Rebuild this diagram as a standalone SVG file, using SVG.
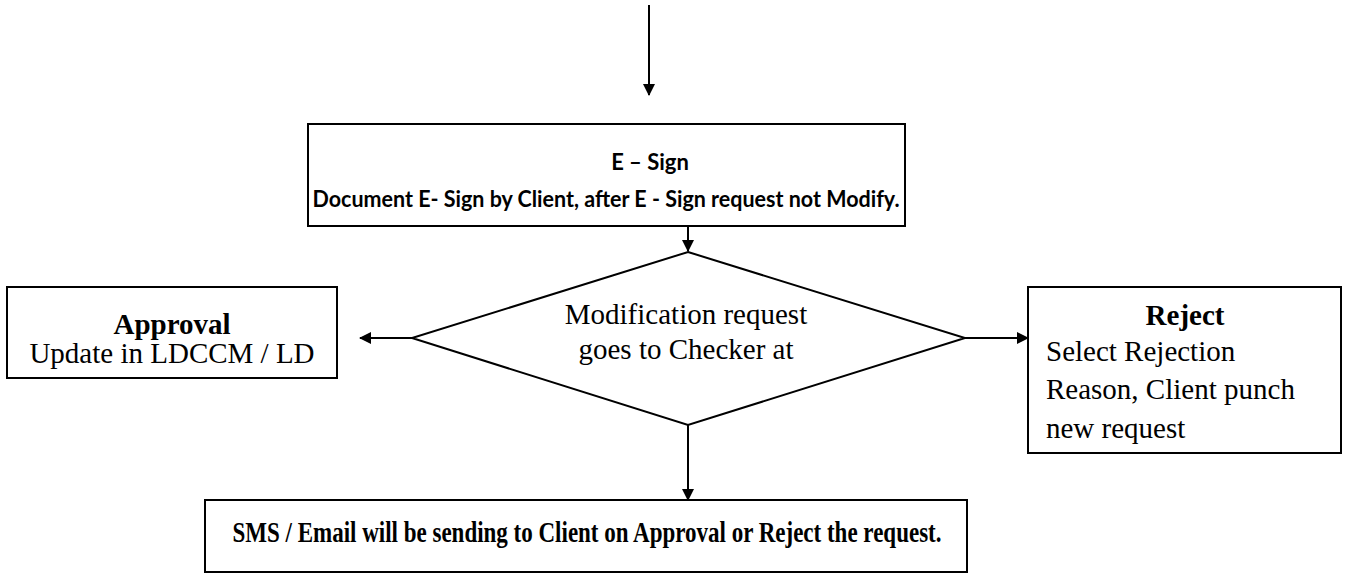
<svg xmlns="http://www.w3.org/2000/svg" width="1367" height="585" viewBox="0 0 1367 585">
<style>
.box{fill:#fff;stroke:#000;stroke-width:2}
.ln{stroke:#000;stroke-width:2;fill:none}
.cal{font-family:Lato,"Open Sans","Liberation Sans",sans-serif;font-weight:bold;font-size:22px;fill:#000}
.tnr{font-family:"Liberation Serif",serif;font-size:29px;fill:#000}
.b{font-weight:bold}
</style>
<defs>
<marker id="ah" markerWidth="12" markerHeight="12" refX="11" refY="6" orient="auto" markerUnits="userSpaceOnUse" viewBox="0 0 12 12">
<path d="M0,0 L12,6 L0,12 z" fill="#000"/>
</marker>
</defs>
<g id="connectors">
<line class="ln" x1="649" y1="5" x2="649" y2="95" marker-end="url(#ah)"/>
<line class="ln" x1="688" y1="226" x2="688" y2="251" marker-end="url(#ah)"/>
<line class="ln" x1="412" y1="338" x2="360" y2="338" marker-end="url(#ah)"/>
<line class="ln" x1="965" y1="338" x2="1028" y2="338" marker-end="url(#ah)"/>
<line class="ln" x1="688" y1="425" x2="688" y2="500" marker-end="url(#ah)"/>
</g>
<g id="esign">
<rect class="box" x="308" y="124" width="597" height="102"/>
<text class="cal" x="650" y="170" text-anchor="middle">E – Sign</text>
<text class="cal" x="606" y="207" text-anchor="middle" textLength="587" lengthAdjust="spacingAndGlyphs">Document E- Sign by Client, after E - Sign request not Modify.</text>
</g>
<g id="decision">
<polygon class="box" points="688,252 965,338 688,425 412,338"/>
<text class="tnr" x="686" y="324" text-anchor="middle">Modification request</text>
<text class="tnr" x="686" y="359" text-anchor="middle">goes to Checker at</text>
</g>
<g id="approval">
<rect class="box" x="7" y="287" width="330" height="91"/>
<text class="tnr b" x="172" y="334" text-anchor="middle">Approval</text>
<text class="tnr" x="172" y="363" text-anchor="middle">Update in LDCCM / LD</text>
</g>
<g id="reject">
<rect class="box" x="1028" y="287" width="313" height="166"/>
<text class="tnr b" x="1185" y="325" text-anchor="middle">Reject</text>
<text class="tnr" x="1046" y="361">Select Rejection</text>
<text class="tnr" x="1046" y="399">Reason, Client punch</text>
<text class="tnr" x="1046" y="438">new request</text>
</g>
<g id="sms">
<rect class="box" x="205" y="500" width="762" height="72"/>
<text class="tnr b" x="587" y="542" text-anchor="middle" textLength="709" lengthAdjust="spacingAndGlyphs">SMS / Email will be sending to Client on Approval or Reject the request.</text>
</g>
</svg>
